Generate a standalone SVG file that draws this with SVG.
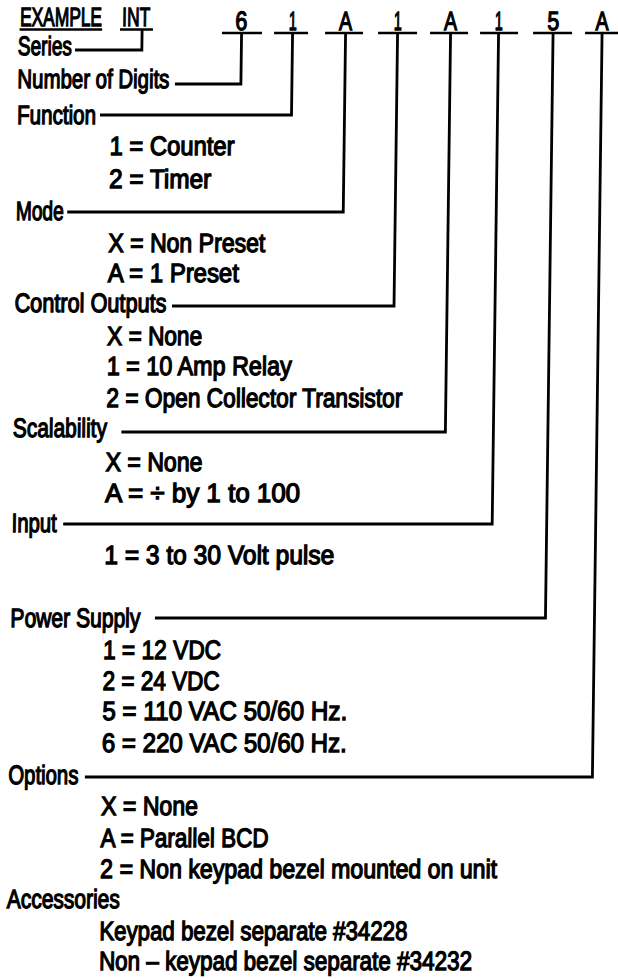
<svg xmlns="http://www.w3.org/2000/svg" width="618" height="979" viewBox="0 0 618 979">
<style>
text{font-family:"Liberation Sans","DejaVu Sans",Arial,sans-serif;font-size:26.5px;fill:#000;stroke:#000;stroke-width:1.3px}
.code{text-anchor:middle}
.ul{stroke:#000;stroke-width:2.4;fill:none}
.conn path{stroke:#000;stroke-width:2.8;fill:none;stroke-linejoin:miter}
</style>
<rect width="618" height="979" fill="#fff"/>
<g transform="matrix(1 0 -0.013 1 0 0)">
<g id="header">
<text transform="translate(20.3 26) scale(0.7 1)" textLength="117.1" lengthAdjust="spacingAndGlyphs">EXAMPLE</text>
<text transform="translate(122.4 26) scale(0.7 1)" textLength="40" lengthAdjust="spacingAndGlyphs">INT</text>
<line class="ul" x1="20" y1="29.5" x2="102.5" y2="29.5"/>
<line class="ul" x1="120.4" y1="29.5" x2="153.4" y2="29.5"/>
</g>
<g id="code">
<text class="code" transform="translate(241.5 30) scale(0.7 1)" textLength="17.1" lengthAdjust="spacingAndGlyphs">6</text>
<text class="code" transform="translate(293 30) scale(0.7 1)" textLength="11.4" lengthAdjust="spacingAndGlyphs">1</text>
<text class="code" transform="translate(346 30) scale(0.7 1)" textLength="18.6" lengthAdjust="spacingAndGlyphs">A</text>
<text class="code" transform="translate(398 30) scale(0.7 1)" textLength="11.4" lengthAdjust="spacingAndGlyphs">1</text>
<text class="code" transform="translate(451 30) scale(0.7 1)" textLength="18.6" lengthAdjust="spacingAndGlyphs">A</text>
<text class="code" transform="translate(499 30) scale(0.7 1)" textLength="11.4" lengthAdjust="spacingAndGlyphs">1</text>
<text class="code" transform="translate(553.5 30) scale(0.7 1)" textLength="17.1" lengthAdjust="spacingAndGlyphs">5</text>
<text class="code" transform="translate(602.5 30) scale(0.7 1)" textLength="18.6" lengthAdjust="spacingAndGlyphs">A</text>
<line class="ul" x1="222.4" y1="33" x2="262.4" y2="33"/>
<line class="ul" x1="274.5" y1="33" x2="308.5" y2="33"/>
<line class="ul" x1="325.5" y1="33" x2="363.5" y2="33"/>
<line class="ul" x1="378.5" y1="33" x2="417.5" y2="33"/>
<line class="ul" x1="430.5" y1="33" x2="468.5" y2="33"/>
<line class="ul" x1="480.5" y1="33" x2="518.5" y2="33"/>
<line class="ul" x1="533.5" y1="33" x2="572.5" y2="33"/>
<line class="ul" x1="585.5" y1="33" x2="620" y2="33"/>
</g>
<g id="series">
<text transform="translate(18.5 55) scale(0.7 1)" textLength="77.1" lengthAdjust="spacingAndGlyphs">Series</text>
</g>
<g id="digits">
<text transform="translate(18.5 88) scale(0.7 1)" textLength="217.1" lengthAdjust="spacingAndGlyphs">Number of Digits</text>
</g>
<g id="function">
<text transform="translate(18.5 124) scale(0.7 1)" textLength="112.9" lengthAdjust="spacingAndGlyphs">Function</text>
<text transform="translate(111.5 155) scale(0.7 1)" textLength="178.6" lengthAdjust="spacingAndGlyphs">1 = Counter</text>
<text transform="translate(111.5 188) scale(0.7 1)" textLength="145.7" lengthAdjust="spacingAndGlyphs">2 = Timer</text>
</g>
<g id="mode">
<text transform="translate(18.5 220) scale(0.7 1)" textLength="68.6" lengthAdjust="spacingAndGlyphs">Mode</text>
<text transform="translate(111.5 252) scale(0.7 1)" textLength="224.3" lengthAdjust="spacingAndGlyphs">X = Non Preset</text>
<text transform="translate(111.5 282) scale(0.7 1)" textLength="187.1" lengthAdjust="spacingAndGlyphs">A = 1 Preset</text>
</g>
<g id="control-outputs">
<text transform="translate(18.5 312) scale(0.7 1)" textLength="217.1" lengthAdjust="spacingAndGlyphs">Control Outputs</text>
<text transform="translate(111.5 345) scale(0.7 1)" textLength="135.7" lengthAdjust="spacingAndGlyphs">X = None</text>
<text transform="translate(111.5 375) scale(0.7 1)" textLength="264.3" lengthAdjust="spacingAndGlyphs">1 = 10 Amp Relay</text>
<text transform="translate(111.5 407) scale(0.7 1)" textLength="422.9" lengthAdjust="spacingAndGlyphs">2 = Open Collector Transistor</text>
</g>
<g id="scalability">
<text transform="translate(18.5 437) scale(0.7 1)" textLength="134.3" lengthAdjust="spacingAndGlyphs">Scalability</text>
<text transform="translate(111.5 471) scale(0.7 1)" textLength="138.6" lengthAdjust="spacingAndGlyphs">X = None</text>
<text transform="translate(111.5 502) scale(0.7 1)" textLength="278.6" lengthAdjust="spacingAndGlyphs">A = ÷ by 1 to 100</text>
</g>
<g id="input">
<text transform="translate(18.5 532) scale(0.7 1)" textLength="64.3" lengthAdjust="spacingAndGlyphs">Input</text>
<text transform="translate(111.5 564) scale(0.7 1)" textLength="328.6" lengthAdjust="spacingAndGlyphs">1 = 3 to 30 Volt pulse</text>
</g>
<g id="power-supply">
<text transform="translate(18.5 627) scale(0.7 1)" textLength="185.7" lengthAdjust="spacingAndGlyphs">Power Supply</text>
<text transform="translate(111.5 659) scale(0.7 1)" textLength="168.6" lengthAdjust="spacingAndGlyphs">1 = 12 VDC</text>
<text transform="translate(111.5 690) scale(0.7 1)" textLength="167.1" lengthAdjust="spacingAndGlyphs">2 = 24 VDC</text>
<text transform="translate(111.5 720) scale(0.7 1)" textLength="350" lengthAdjust="spacingAndGlyphs">5 = 110 VAC 50/60 Hz.</text>
<text transform="translate(111.5 752) scale(0.7 1)" textLength="350" lengthAdjust="spacingAndGlyphs">6 = 220 VAC 50/60 Hz.</text>
</g>
<g id="options">
<text transform="translate(18.5 784) scale(0.7 1)" textLength="100" lengthAdjust="spacingAndGlyphs">Options</text>
<text transform="translate(111.5 815) scale(0.7 1)" textLength="138.6" lengthAdjust="spacingAndGlyphs">X = None</text>
<text transform="translate(111.5 847) scale(0.7 1)" textLength="240" lengthAdjust="spacingAndGlyphs">A = Parallel BCD</text>
<text transform="translate(111.5 878) scale(0.7 1)" textLength="567.1" lengthAdjust="spacingAndGlyphs">2 = Non keypad bezel mounted on unit</text>
</g>
<g id="accessories">
<text transform="translate(18.5 908) scale(0.7 1)" textLength="161.4" lengthAdjust="spacingAndGlyphs">Accessories</text>
<text transform="translate(111.5 940) scale(0.7 1)" textLength="440" lengthAdjust="spacingAndGlyphs">Keypad bezel separate #34228</text>
<text transform="translate(111.5 970) scale(0.7 1)" textLength="532.9" lengthAdjust="spacingAndGlyphs">Non – keypad bezel separate #34232</text>
</g>
<g id="connectors" class="conn">
<path d="M142.5,29.5 V50 H75.7"/>
<path d="M242,33 V84 H176"/>
<path d="M293,33 V115 H101.5"/>
<path d="M346,33 V212 H70"/>
<path d="M398,33 V306 H176"/>
<path d="M451,33 V432 H127"/>
<path d="M499,33 V524 H70"/>
<path d="M553.5,33 V618 H163"/>
<path d="M602.5,33 V777 H95"/>
</g>
</g>
</svg>
